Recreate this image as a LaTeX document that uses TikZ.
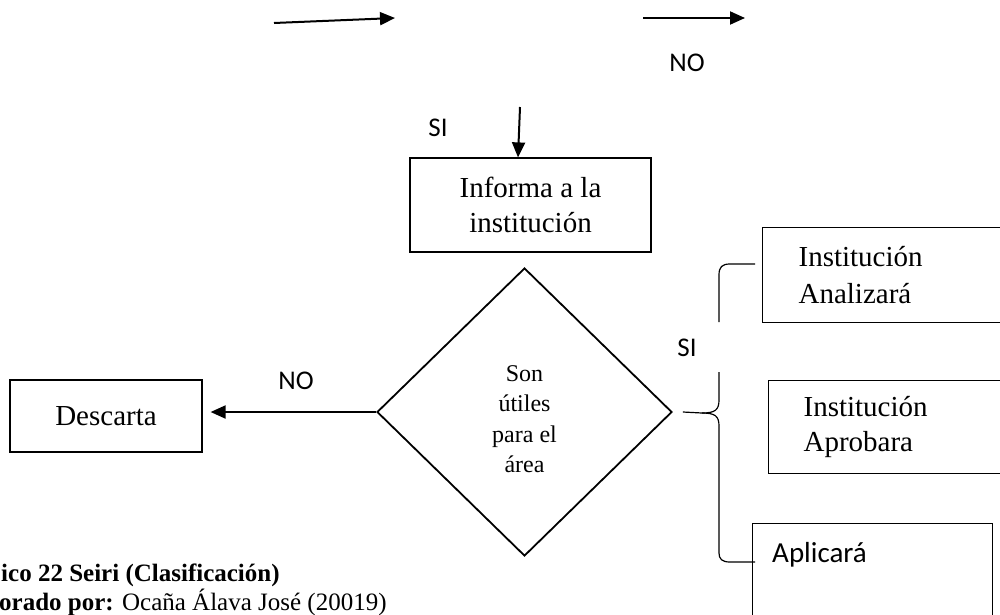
\documentclass[tikz,border=0pt]{standalone}
\usepackage{fontspec}
\setmainfont{Liberation Serif}
\newfontfamily\calibri{Carlito}
\usetikzlibrary{arrows.meta,shapes.geometric}

\begin{document}
\begin{tikzpicture}[x=1pt,y=-1pt,
  box/.style={draw,line width=1.2pt,rectangle,inner sep=0pt},
  arr/.style={line width=2pt,-{Triangle[length=15pt,width=13pt]}},
  lbl/.style={font=\calibri\fontsize{27}{32}\selectfont,inner sep=0pt},
  brace/.style={line width=1.2pt}]
\useasboundingbox (0,0) rectangle (1000,614);
\clip (0,0) rectangle (1000,614);

% arrows along the top
\coordinate (t1s) at (274,23);
\coordinate (t1e) at (395,18);
\coordinate (t2s) at (643,18);
\coordinate (t2e) at (745,18);
\draw[arr] (t1s) -- (t1e);
\draw[arr] (t2s) -- (t2e);
\node[lbl] (noTop) at (687,63) {NO};
\node[lbl] (siTop) at (438,128) {SI};

% main flow
\node[box,minimum width=241pt,minimum height=94pt,align=center,
      font=\fontsize{29}{35}\selectfont] (info) at (530.5,205)
      {Informa a la\\institución};
\coordinate (ds) at (520,107);
\draw[arr] (ds) -- ([xshift=-12.5pt]info.north);

\node[diamond,draw,line width=1.8pt,minimum width=295pt,minimum height=288pt,
      inner sep=0pt] (dec) at (524.5,412) {};
\node[align=center,inner sep=0pt,font=\fontsize{24}{30.5}\selectfont]
      (decT) at (524.5,419) {Son\\útiles\\para el\\área};

\node[box,minimum width=192pt,minimum height=72pt,
      font=\fontsize{29}{35}\selectfont] (desc) at (106,416) {Descarta};
\draw[arr,shorten >=8pt] (dec.west) -- (dec.west -| desc.east);
\node[lbl] (noLeft) at (296,381) {NO};

% outcome boxes on the right
\node[box,anchor=north west,minimum width=260pt,minimum height=95pt,
      text width=230pt,align=left,font=\fontsize{29}{37}\selectfont]
      (anal) at (762,227) {\hspace*{21pt}Institución\\\hspace*{21pt}Analizará};
\node[box,anchor=north west,minimum width=260pt,minimum height=93pt,
      text width=230pt,align=left,font=\fontsize{29}{35}\selectfont]
      (aprob) at (768,380) {\hspace*{20pt}Institución\\\hspace*{20pt}Aprobara};
\node[box,anchor=north west,minimum width=240pt,minimum height=120pt]
      (apl) at (752,523) {};
\node[anchor=base west,inner sep=0pt,font=\calibri\fontsize{29}{35}\selectfont]
      (aplt) at (772,562) {Aplicará};

% curly brace joining the decision to the outcomes
\coordinate (btip) at ([xshift=10pt]dec.east);
\coordinate (bmid) at (702,413);
\coordinate (btop) at (755,264);
\coordinate (bbot) at (755,562);
\draw[brace] (btop) -- (730,264) .. controls (722,264) and (719,267) .. (719,275) -- (719,322);
\draw[brace] (btip) -- (bmid) .. controls (715,413) and (719,410) .. (719,400) -- (719,372);
\draw[brace] (bmid) .. controls (715,413) and (719,416) .. (719,426) -- (719,553)
  .. controls (719,559) and (722,562) .. (730,562) -- (bbot);
\node[lbl] (siRight) at (687,348) {SI};

% caption
\node[anchor=base west,inner sep=0pt,font=\bfseries\fontsize{25}{30}\selectfont]
  (cap1) at (1,581) {ico 22 Seiri (Clasificación)};
\node[anchor=base west,inner sep=0pt,font=\fontsize{25}{30}\selectfont]
  (cap2) at (-1,610) {\textbf{orado por:} Ocaña Álava José (20019)};
\end{tikzpicture}
\end{document}
